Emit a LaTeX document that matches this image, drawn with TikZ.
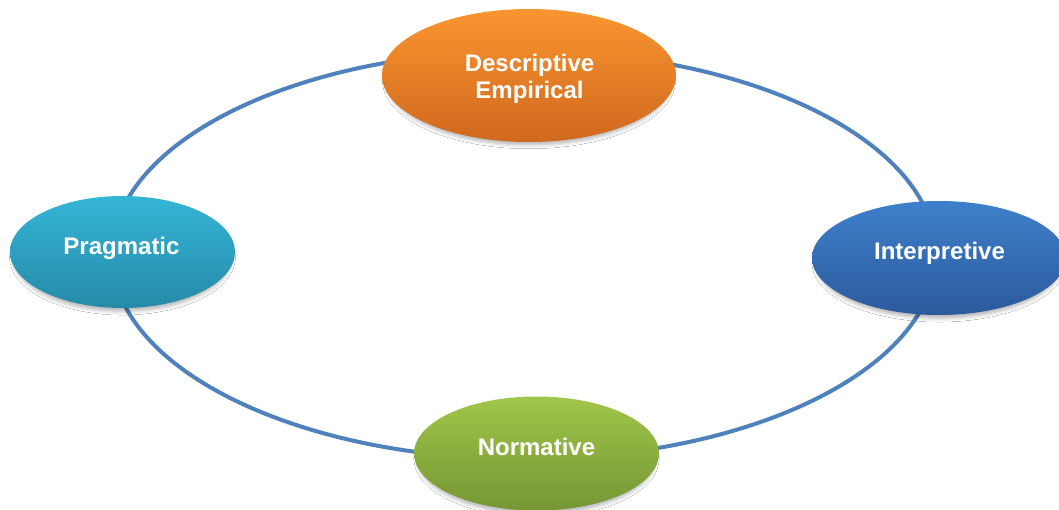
\documentclass[tikz,border=0pt]{standalone}
\usepackage{fontspec}
\setmainfont{Liberation Sans}
\usetikzlibrary{shapes.geometric,shadows.blur}
\definecolor{ringblue}{RGB}{79,129,189}
\definecolor{orangeT}{RGB}{249,150,48}
\definecolor{orangeB}{RGB}{208,104,30}
\definecolor{cyanT}{RGB}{53,181,215}
\definecolor{cyanB}{RGB}{38,138,168}
\definecolor{blueT}{RGB}{62,128,204}
\definecolor{blueB}{RGB}{44,90,156}
\definecolor{greenT}{RGB}{160,198,74}
\definecolor{greenB}{RGB}{118,150,52}
\tikzset{
  ell/.style={ellipse, inner sep=0pt, outer sep=0pt,
    blur shadow={shadow xshift=0pt, shadow yshift=-5pt, shadow scale=0.97, shadow blur radius=4pt, shadow opacity=30}},
  lbl/.style={text=white, font=\fontsize{24}{27}\selectfont\bfseries, inner sep=0pt, align=center},
  one/.style={text height=17.2pt, text depth=5pt},
  ring/.style={draw=ringblue, line width=4pt}
}
\begin{document}
\begin{tikzpicture}[x=1pt, y=-1pt]
\useasboundingbox (0,0) rectangle (1059,510);
\clip (0,0) rectangle (1059,510);
\fill[white] (0,0) rectangle (1059,510);
\draw[ring] (524,255) ellipse [x radius=412, y radius=204];
\node[ell, minimum width=294pt, minimum height=133pt, top color=orangeT, bottom color=orangeB] (desc) at (529,75.5) {};
\node[ell, minimum width=225pt, minimum height=112pt, top color=cyanT, bottom color=cyanB] (prag) at (122.5,252) {};
\node[ell, minimum width=254pt, minimum height=114pt, top color=blueT, bottom color=blueB] (interp) at (939,258) {};
\node[ell, minimum width=245pt, minimum height=114pt, top color=greenT, bottom color=greenB] (norm) at (536.5,453.5) {};
\node[lbl] (desct) at (529.5,78.4) {Descriptive\\Empirical};
\node[lbl, one] (pragt) at (121.5,248) {Pragmatic};
\node[lbl, one] (interpt) at (939.5,253) {Interpretive};
\node[lbl, one] (normt) at (536.5,449) {Normative};
\end{tikzpicture}
\end{document}
